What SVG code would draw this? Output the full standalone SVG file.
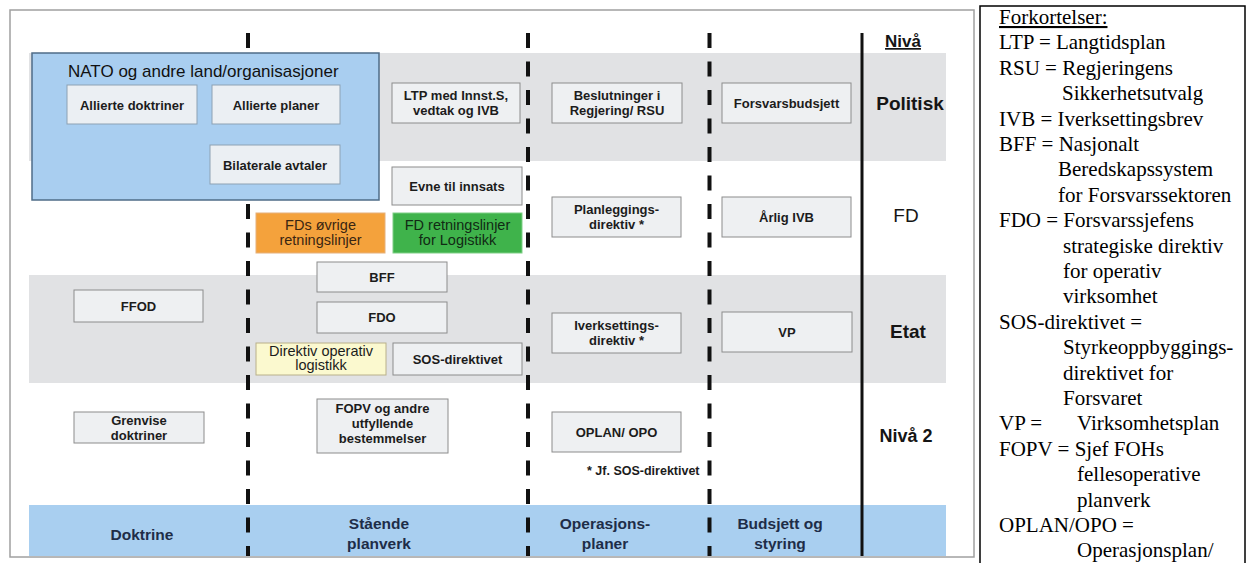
<svg xmlns="http://www.w3.org/2000/svg" width="1249" height="563" viewBox="0 0 1249 563">
<style>
.frame{fill:#fff;stroke:#a0a0a0;stroke-width:1.5}
.band{fill:#e1e2e4}
.bband{fill:#a9cff0}
.box{fill:#eef0f2;stroke:#8c8c8c;stroke-width:1}
.nato{fill:#a9cef0;stroke:#4f6c88;stroke-width:1.5}
.nbox{fill:#ebeff3;stroke:#8da1b3;stroke-width:1}
.orange{fill:#f4a23c;stroke:#e6b07a;stroke-width:1}
.green{fill:#3fb34b;stroke:#7fcf86;stroke-width:1}
.yellow{fill:#fbf9cf;stroke:#b9b08a;stroke-width:1}
.t{font-family:"Liberation Sans",Arial,sans-serif;font-size:13px;font-weight:bold;fill:#1c1c1c;text-anchor:middle}
.tr{font-family:"Liberation Sans",Arial,sans-serif;font-size:14.5px;font-weight:normal;text-anchor:middle}
.lvl{font-family:"Liberation Sans",Arial,sans-serif;font-size:19px;font-weight:bold;fill:#151515;text-anchor:middle}
.bl{font-family:"Liberation Sans",Arial,sans-serif;font-size:15.5px;font-weight:bold;fill:#1e2d48;text-anchor:middle}
.dash{stroke:#111;stroke-width:4;stroke-dasharray:15 13.5;fill:none}
.solid{stroke:#111;stroke-width:3;fill:none}
.leg{font-family:"Liberation Serif","Times New Roman",serif;font-size:21px;fill:#000}
</style>

<rect class="frame" x="10" y="10" width="964" height="547"/>

<g id="bands">
<rect class="band" x="29" y="53" width="917" height="108"/>
<rect class="band" x="29" y="275" width="917" height="108"/>
<rect class="bband" x="29" y="505" width="917" height="51"/>
</g>

<g id="connectors">
<line class="dash" x1="248" y1="33" x2="248" y2="556"/>
<line class="dash" x1="528" y1="33" x2="528" y2="556"/>
<line class="dash" x1="709.5" y1="33" x2="709.5" y2="556"/>
<line class="solid" x1="862" y1="33" x2="862" y2="556"/>
</g>

<g id="nato">
<rect class="nato" x="32" y="53" width="347" height="147"/>
<text x="68" y="77" style="font-family:'Liberation Sans',Arial,sans-serif;font-size:17px;fill:#111">NATO og andre land/organisasjoner</text>
</g>
<g id="allierte-doktriner"><rect class="nbox" x="67" y="85" width="130" height="39"/><text class="t" x="132" y="109.5">Allierte doktriner</text></g>
<g id="allierte-planer"><rect class="nbox" x="212" y="85" width="128" height="39"/><text class="t" x="276" y="109.5">Allierte planer</text></g>
<g id="bilaterale-avtaler"><rect class="nbox" x="210" y="145" width="130" height="39"/><text class="t" x="275" y="169.5">Bilaterale avtaler</text></g>
<g id="ffod"><rect class="box" x="74" y="290" width="129" height="32"/><text class="t" x="138.5" y="311">FFOD</text></g>
<g id="grenvise"><rect class="box" x="74" y="412" width="130" height="31"/><text class="t" x="139" y="425">Grenvise</text><text class="t" x="139" y="440">doktriner</text></g>

<g id="ltp"><rect class="box" x="392" y="83" width="128" height="40"/><text class="t" x="456" y="100">LTP med Innst.S,</text><text class="t" x="456" y="115">vedtak og IVB</text></g>
<g id="evne"><rect class="box" x="392" y="167" width="130" height="38"/><text class="t" x="457" y="190.5">Evne til innsats</text></g>
<g id="fds-ovrige"><rect class="orange" x="256" y="213" width="129" height="40"/><text class="tr" x="320.5" y="230" fill="#3a2612">FDs øvrige</text><text class="tr" x="320.5" y="245" fill="#3a2612">retningslinjer</text></g>
<g id="fd-logistikk"><rect class="green" x="393" y="213" width="129" height="40"/><text class="tr" x="457.5" y="230" fill="#112a14">FD retningslinjer</text><text class="tr" x="457.5" y="245" fill="#112a14">for Logistikk</text></g>
<g id="bff"><rect class="box" x="317" y="262" width="130" height="30"/><text class="t" x="382" y="281.5">BFF</text></g>
<g id="fdo"><rect class="box" x="317" y="302" width="130" height="31"/><text class="t" x="382" y="322">FDO</text></g>
<g id="direktiv-logistikk"><rect class="yellow" x="256" y="343" width="130" height="32"/><text class="tr" x="321" y="356" fill="#1c1c1c">Direktiv operativ</text><text class="tr" x="321" y="370" fill="#1c1c1c">logistikk</text></g>
<g id="sos-direktivet"><rect class="box" x="393" y="343" width="129" height="32"/><text class="t" x="457.5" y="363.5">SOS-direktivet</text></g>
<g id="fopv"><rect class="box" x="317" y="399" width="131" height="54"/><text class="t" x="382.5" y="413">FOPV og andre</text><text class="t" x="382.5" y="428">utfyllende</text><text class="t" x="382.5" y="443">bestemmelser</text></g>

<g id="beslutninger"><rect class="box" x="552" y="83" width="130" height="40"/><text class="t" x="617" y="100">Beslutninger i</text><text class="t" x="617" y="115">Regjering/ RSU</text></g>
<g id="planleggings"><rect class="box" x="552" y="197" width="129" height="40"/><text class="t" x="616.5" y="213.5">Planleggings-</text><text class="t" x="616.5" y="228.5">direktiv *</text></g>
<g id="iverksettings"><rect class="box" x="552" y="313" width="129" height="40"/><text class="t" x="616.5" y="329.5">Iverksettings-</text><text class="t" x="616.5" y="344.5">direktiv *</text></g>
<g id="oplan"><rect class="box" x="552" y="412" width="129" height="40"/><text class="t" x="616.5" y="437">OPLAN/ OPO</text></g>
<g id="footnote"><text x="587" y="475" style="font-family:'Liberation Sans',Arial,sans-serif;font-size:12.5px;font-weight:bold;fill:#1c1c1c">* Jf. SOS-direktivet</text></g>

<g id="forsvarsbudsjett"><rect class="box" x="722" y="83" width="129" height="40"/><text class="t" x="786.5" y="108">Forsvarsbudsjett</text></g>
<g id="arlig-ivb"><rect class="box" x="722" y="197" width="129" height="40"/><text class="t" x="786.5" y="222">Årlig IVB</text></g>
<g id="vp"><rect class="box" x="722" y="312" width="130" height="40"/><text class="t" x="787" y="337">VP</text></g>

<g id="levels">
<text class="lvl" x="903" y="47" style="font-size:17px;text-decoration:underline">Nivå</text>
<text class="lvl" x="910" y="110">Politisk</text>
<text class="lvl" x="906" y="222" style="font-weight:normal">FD</text>
<text class="lvl" x="908" y="338">Etat</text>
<text class="lvl" x="906" y="442" style="font-size:18px">Nivå 2</text>
</g>

<g id="columns">
<text class="bl" x="142" y="540">Doktrine</text>
<text class="bl" x="379" y="529">Stående</text>
<text class="bl" x="379" y="549">planverk</text>
<text class="bl" x="605" y="529">Operasjons-</text>
<text class="bl" x="605" y="549">planer</text>
<text class="bl" x="780" y="529">Budsjett og</text>
<text class="bl" x="780" y="549">styring</text>
</g>

<g id="legend">
<rect x="980" y="6" width="265" height="572" fill="#fff" stroke="#000" stroke-width="1.5"/>
<text class="leg">
<tspan x="999" y="24" text-decoration="underline">Forkortelser:</tspan>
<tspan x="999" y="49.4">LTP = Langtidsplan</tspan>
<tspan x="999" y="74.8">RSU = Regjeringens</tspan>
<tspan x="1062" y="100.2">Sikkerhetsutvalg</tspan>
<tspan x="999" y="125.6">IVB = Iverksettingsbrev</tspan>
<tspan x="999" y="151">BFF = Nasjonalt</tspan>
<tspan x="1058" y="176.4">Beredskapssystem</tspan>
<tspan x="1058" y="201.8">for Forsvarssektoren</tspan>
<tspan x="999" y="227.2">FDO = Forsvarssjefens</tspan>
<tspan x="1063" y="252.6">strategiske direktiv</tspan>
<tspan x="1063" y="278">for operativ</tspan>
<tspan x="1063" y="303.4">virksomhet</tspan>
<tspan x="999" y="328.8">SOS-direktivet =</tspan>
<tspan x="1063" y="354.2">Styrkeoppbyggings-</tspan>
<tspan x="1063" y="379.6">direktivet for</tspan>
<tspan x="1063" y="405">Forsvaret</tspan>
<tspan x="999" y="430.4">VP =</tspan>
<tspan x="1077" y="430.4">Virksomhetsplan</tspan>
<tspan x="999" y="455.8">FOPV = Sjef FOHs</tspan>
<tspan x="1077" y="481.2">fellesoperative</tspan>
<tspan x="1077" y="506.6">planverk</tspan>
<tspan x="999" y="532">OPLAN/OPO =</tspan>
<tspan x="1077" y="557.4">Operasjonsplan/</tspan>
</text>
</g>
</svg>
